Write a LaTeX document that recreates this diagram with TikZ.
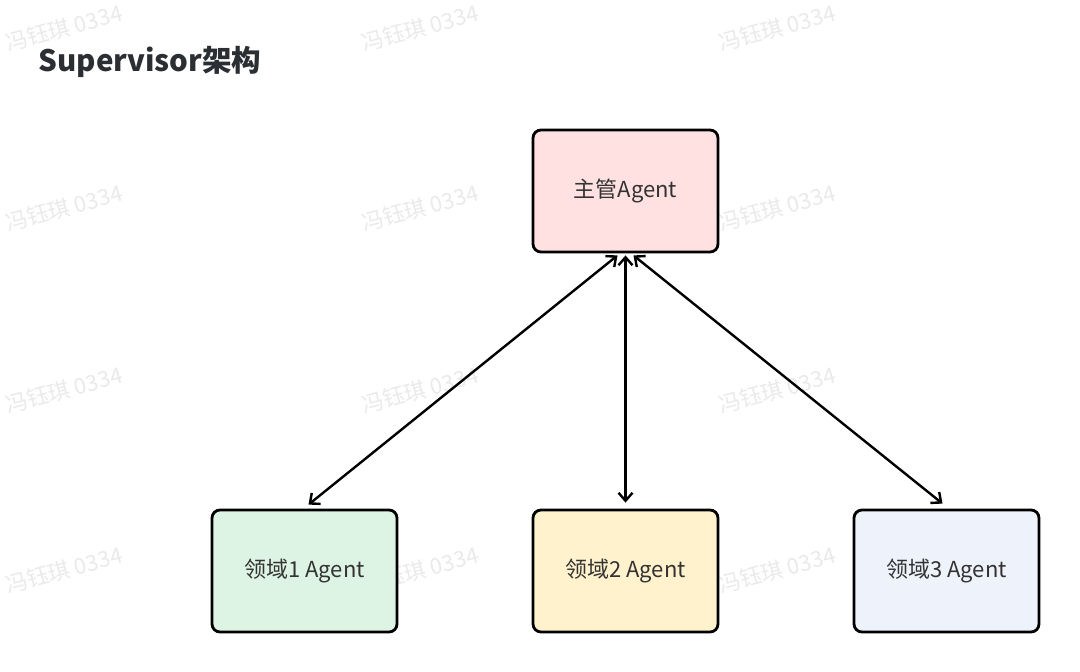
\documentclass[tikz,border=0pt]{standalone}
\usepackage{fontspec}
\setmainfont{Noto Sans CJK SC}
\usetikzlibrary{arrows.meta,calc}
\definecolor{pinkfill}{HTML}{FFE1E1}
\definecolor{greenfill}{HTML}{DDF3E3}
\definecolor{yellowfill}{HTML}{FFF2CC}
\definecolor{bluefill}{HTML}{EEF2FB}
\definecolor{txt}{HTML}{333333}
\definecolor{titlecol}{HTML}{2B2F33}
\definecolor{wm}{HTML}{EAEAEA}
\tikzset{
  agentbox/.style={draw=black, line width=2.8pt, rounded corners=8pt,
    minimum width=185pt, minimum height=122pt, inner sep=0pt,
    font=\fontsize{22}{26}\selectfont, text=txt},
  biarrow/.style={line width=2.4pt, {Straight Barb[length=8pt,width=14pt,line width=2.4pt]}-{Straight Barb[length=8pt,width=14pt,line width=2.4pt]}},
  watermark/.style={text=wm, rotate=15, font=\fontsize{22}{26}\selectfont}
}
\begin{document}
\begin{tikzpicture}[x=1pt,y=-1pt]
\useasboundingbox[fill=white] (0,0) rectangle (1080,672);
% watermarks
\foreach \wx in {64,420,777} {
  \foreach \wy in {28,208,390,570} {
    \node[watermark] at (\wx,\wy) {冯钰琪 0334};
  }
}
\node[anchor=west, text=titlecol, font=\fontsize{29.5}{33}\selectfont\bfseries] (title) at (35,62) {Supervisor架构};
\node[agentbox, fill=pinkfill] (sup) at (625.5,191) {主管Agent};
\node[agentbox, fill=greenfill] (d1) at (304.5,571) {领域1 Agent};
\node[agentbox, fill=yellowfill] (d2) at (625.5,571) {领域2 Agent};
\node[agentbox, fill=bluefill] (d3) at (946.5,571) {领域3 Agent};
\coordinate (s1) at ([xshift=-8pt,yshift=-2pt]sup.south);
\coordinate (s2) at ([yshift=-2pt]sup.south);
\coordinate (s3) at ([xshift=8pt,yshift=-2pt]sup.south);
\coordinate (e1) at ([xshift=4pt,yshift=4pt]d1.north);
\coordinate (e2) at ([yshift=6pt]d2.north);
\coordinate (e3) at ([xshift=-4pt,yshift=5pt]d3.north);
\draw[biarrow] (s1) -- (e1);
\draw[biarrow] (s2) -- (e2);
\draw[biarrow] (s3) -- (e3);
\end{tikzpicture}
\end{document}
